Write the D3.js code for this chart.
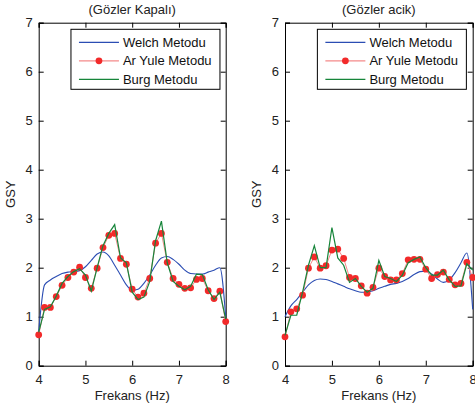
<!DOCTYPE html>
<html>
<head>
<meta charset="utf-8">
<script src="https://cdn.jsdelivr.net/npm/d3@7"></script>
<style>
  body { margin: 0; background: #fff; }
  svg { display: block; font-family: "Liberation Sans", Arial, sans-serif; }
</style>
</head>
<body>
<div id="graph"></div>
<script>
// frequency grid (Hz)
const freqs = [4, 4.125, 4.25, 4.375, 4.5, 4.625, 4.75, 4.875, 5, 5.125, 5.25, 5.375, 5.5, 5.625, 5.75, 5.875,
    6, 6.125, 6.25, 6.375, 6.5, 6.625, 6.75, 6.875, 7, 7.125, 7.25, 7.375, 7.5, 7.625, 7.75, 7.875, 8];

const xTicks = [4, 5, 6, 7, 8];
const yTicks = [0, 1, 2, 3, 4, 5, 6, 7];
const seriesNames = ["Welch Metodu", "Ar Yule Metodu", "Burg Metodu"];
const titles = ["(Gözler Kapalı)", "(Gözler acik)"];

// Gözler Kapalı
const welchClosed = [0.7, 1.65, 1.75, 1.82, 1.88, 1.91, 1.92, 1.94, 2.02, 2.15, 2.28, 2.32, 2.24, 2.05, 1.85, 1.65,
    1.54, 1.56, 1.68, 1.85, 2.05, 2.2, 2.23, 2.17, 2.07, 1.95, 1.88, 1.87, 1.87, 1.91, 1.95, 2.0, 1.0];
const arClosed = [0.63, 1.19, 1.19, 1.41, 1.64, 1.80, 1.91, 2.01, 1.80, 1.58, 1.99, 2.41, 2.66, 2.70, 2.19, 2.07,
    1.56, 1.40, 1.48, 1.78, 2.50, 2.70, 2.11, 1.78, 1.66, 1.58, 1.59, 1.76, 1.78, 1.53, 1.37, 1.52, 0.90];
const burgClosed = [0.68, 1.15, 1.2, 1.42, 1.68, 1.82, 1.92, 1.98, 1.85, 1.52, 2.0, 2.45, 2.7, 2.88, 2.2, 2.1,
    1.5, 1.35, 1.4, 1.72, 2.55, 2.95, 2.1, 1.72, 1.62, 1.55, 1.62, 1.87, 1.86, 1.55, 1.35, 1.5, 0.95];

// Gözler acik
const welchOpen = [1.0, 1.22, 1.35, 1.5, 1.65, 1.74, 1.77, 1.76, 1.72, 1.67, 1.62, 1.57, 1.53, 1.5, 1.5, 1.53,
    1.58, 1.62, 1.66, 1.68, 1.72, 1.78, 1.86, 1.92, 1.93, 1.87, 1.77, 1.7, 1.75, 1.9, 2.1, 2.3, 1.15];
const arOpen = [0.59, 1.10, 1.16, 1.44, 1.99, 2.22, 1.99, 2.04, 2.36, 2.38, 2.19, 1.80, 1.78, 1.63, 1.48, 1.60,
    1.99, 1.82, 1.75, 1.75, 1.88, 2.16, 2.17, 2.17, 1.97, 1.78, 1.86, 1.91, 1.76, 1.65, 1.68, 2.11, 1.80];
const burgOpen = [0.62, 1.03, 1.03, 1.5, 2.05, 2.45, 2.0, 2.0, 2.82, 2.2, 2.05, 1.7, 1.78, 1.62, 1.5, 1.58,
    2.15, 1.82, 1.78, 1.72, 1.85, 2.1, 2.17, 2.22, 2.0, 1.85, 1.85, 1.95, 1.75, 1.62, 1.63, 2.08, 1.95];

let width = 475;
let height = 413;

const blue = "#2b4db3";
const red = "#f22a2a";
const redLine = "#f48a8a";
const green = "#16853a";

let svg = d3.select("#graph")
    .append("svg")
    .attr("width", width)
    .attr("height", height);

function panel(left, right, title, welch, ar, burg) {
    let x = d3.scaleLinear().domain([4, 8]).range([left, right]);
    let y = d3.scaleLinear().domain([0, 7]).range([365.7, 22.7]);

    let g = svg.append("g");

    // ticks on all four sides, pointing in
    g.append("g")
        .attr("transform", "translate(0," + y(0) + ")")
        .call(d3.axisBottom(x).tickValues(xTicks).tickSize(-5).tickPadding(9).tickFormat(d3.format("d")));
    g.append("g")
        .attr("transform", "translate(0," + y(7) + ")")
        .call(d3.axisTop(x).tickValues(xTicks).tickSize(-5).tickFormat(""));
    g.append("g")
        .attr("transform", "translate(" + left + ",0)")
        .call(d3.axisLeft(y).tickValues(yTicks).tickSize(-5).tickPadding(6).tickFormat(d3.format("d")));
    g.append("g")
        .attr("transform", "translate(" + right + ",0)")
        .call(d3.axisRight(y).tickValues(yTicks).tickSize(-5).tickFormat(""));

    g.selectAll(".domain").attr("stroke", "#000");
    g.selectAll(".tick line").attr("stroke", "#000");
    g.selectAll(".tick text")
        .attr("font-size", "13px")
        .attr("fill", "#222")
        .attr("font-family", "Liberation Sans, Arial, sans-serif");

    let plot = g.append("g");

    let line = d3.line()
        .x((d, i) => x(freqs[i]))
        .y(d => y(d));

    plot.append("path")
        .datum(welch)
        .attr("fill", "none")
        .attr("stroke", blue)
        .attr("stroke-width", 1.1)
        .attr("d", line.curve(d3.curveMonotoneX));

    plot.append("path")
        .datum(ar)
        .attr("fill", "none")
        .attr("stroke", redLine)
        .attr("stroke-width", 1)
        .attr("d", line.curve(d3.curveLinear));

    plot.selectAll(".dot")
        .data(ar)
        .enter().append("circle")
        .attr("cx", (d, i) => x(freqs[i]))
        .attr("cy", d => y(d))
        .attr("r", 3.4)
        .attr("fill", red);

    plot.append("path")
        .datum(burg)
        .attr("fill", "none")
        .attr("stroke", green)
        .attr("stroke-width", 1.2)
        .attr("d", line.curve(d3.curveLinear));

    // title and axis labels
    svg.append("text")
        .attr("x", (left + right) / 2)
        .attr("y", 14)
        .attr("text-anchor", "middle")
        .attr("font-size", "13px")
        .attr("fill", "#222")
        .text(title);

    svg.append("text")
        .attr("x", (left + right) / 2)
        .attr("y", 400)
        .attr("text-anchor", "middle")
        .attr("font-size", "13px")
        .attr("fill", "#222")
        .text("Frekans (Hz)");

    svg.append("text")
        .attr("transform", "translate(" + (left - 24) + "," + y(3.5) + ") rotate(-90)")
        .attr("text-anchor", "middle")
        .attr("font-size", "13px")
        .attr("fill", "#222")
        .text("GSY");

    // legend
    let lx = x(4.69);
    let lg = svg.append("g");
    lg.append("rect")
        .attr("x", lx)
        .attr("y", 29.3)
        .attr("width", 149)
        .attr("height", 60)
        .attr("fill", "#fff")
        .attr("stroke", "#000");

    const colors = [blue, redLine, green];
    seriesNames.forEach((name, i) => {
        let ly = 42.3 + i * 18.5;
        lg.append("line")
            .attr("x1", lx + 8)
            .attr("x2", lx + 48)
            .attr("y1", ly)
            .attr("y2", ly)
            .attr("stroke", colors[i])
            .attr("stroke-width", 1.2);
        if (i === 1) {
            lg.append("circle")
                .attr("cx", lx + 28)
                .attr("cy", ly)
                .attr("r", 3.4)
                .attr("fill", red);
        }
        lg.append("text")
            .attr("x", lx + 52)
            .attr("y", ly + 4.6)
            .attr("font-size", "13px")
            .attr("fill", "#111")
            .text(name);
    });
}

panel(38.7, 225.7, titles[0], welchClosed, arClosed, burgClosed);
panel(285, 472.7, titles[1], welchOpen, arOpen, burgOpen);
</script>
</body>
</html>
